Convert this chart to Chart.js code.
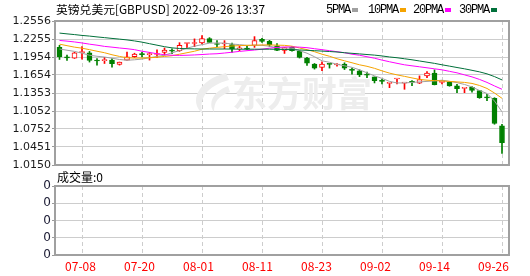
<!DOCTYPE html>
<html>
<head>
<meta charset="utf-8">
<script src="https://cdn.jsdelivr.net/npm/chart.js@4.4.1/dist/chart.umd.min.js"></script>
<style>
  body { margin: 0; background: #fff; }
  #wrap { position: relative; width: 530px; height: 276px; overflow: hidden; background: #fff; }
  .box { position: absolute; left: 0; width: 530px; }
  #priceBox { top: 0; height: 175px; }
  #volBox { top: 175px; height: 101px; }
  .lbl { position: absolute; z-index: 2; white-space: nowrap; font-size: 12px; line-height: 12px; color: #000; }
  .cn { font-family: "Noto Sans CJK SC", sans-serif; }
  .mono { font-family: "Liberation Mono", monospace; letter-spacing: -1.2px; }
  .key { position: absolute; z-index: 2; width: 6px; height: 4px; }
</style>
</head>
<body>
<div id="wrap">
  <div class="box" id="priceBox"><canvas id="priceChart"></canvas></div>
  <div class="box" id="volBox"><canvas id="volChart"></canvas></div>
  <div class="lbl cn" style="left:56px;top:3px;font-size:11.8px">英镑兑美元[GBPUSD] 2022-09-26 13:37</div>
  <div class="lbl cn" style="left:57px;top:171px">成交量:0</div>
</div>
<script>
// trading days shown (07-05 .. 09-26)
const dates = ['07-05','07-06','07-07','07-08','07-11','07-12','07-13','07-14','07-15','07-18',
  '07-19','07-20','07-21','07-22','07-25','07-26','07-27','07-28','07-29','08-01',
  '08-02','08-03','08-04','08-05','08-08','08-09','08-10','08-11','08-12','08-15',
  '08-16','08-17','08-18','08-19','08-22','08-23','08-24','08-25','08-26','08-29',
  '08-30','08-31','09-01','09-02','09-05','09-06','09-07','09-08','09-09','09-12',
  '09-13','09-14','09-15','09-16','09-19','09-20','09-21','09-22','09-23','09-26'];

const opens = [1.2115,1.1947,1.1937,1.2028,1.2026,1.1893,1.1893,1.1903,1.1829,1.1903,
  1.1959,1.2000,1.1995,1.1997,1.2031,1.2058,1.2060,1.2180,1.2180,1.2189,
  1.2262,1.2170,1.2172,1.2161,1.2090,1.2090,1.2149,1.2250,1.2216,1.2140,
  1.2065,1.2115,1.2048,1.1937,1.1836,1.1779,1.1836,1.1821,1.1836,1.1740,
  1.1723,1.1660,1.1622,1.1553,1.1514,1.1587,1.1519,1.1536,1.1516,1.1639,
  1.1684,1.1530,1.1533,1.1471,1.1430,1.1449,1.1392,1.1277,1.1264,1.0803];
const highs = [1.2149,1.1987,1.2034,1.2127,1.2048,1.1930,1.1947,1.1930,1.1870,1.2038,
  1.2018,1.2031,1.2031,1.2076,1.2105,1.2093,1.2194,1.2187,1.2257,1.2312,
  1.2278,1.2228,1.2228,1.2189,1.2139,1.2139,1.2295,1.2267,1.2233,1.2177,
  1.2115,1.2130,1.2060,1.1947,1.1846,1.1875,1.1841,1.1846,1.1858,1.1769,
  1.1740,1.1701,1.1622,1.1583,1.1521,1.1595,1.1526,1.1560,1.1639,1.1711,
  1.1740,1.1555,1.1544,1.1499,1.1437,1.1459,1.1398,1.1331,1.1274,1.0831];
const lows = [1.1913,1.1896,1.1930,1.1920,1.1870,1.1819,1.1846,1.1785,1.1819,1.1903,
  1.1947,1.1954,1.1903,1.1942,1.1987,1.2009,1.2048,1.2110,1.2127,1.2172,
  1.2199,1.2127,1.2093,1.2031,1.2060,1.2077,1.2115,1.2199,1.2132,1.2060,
  1.2014,1.2052,1.1937,1.1812,1.1752,1.1728,1.1769,1.1802,1.1745,1.1668,
  1.1627,1.1610,1.1521,1.1504,1.1442,1.1504,1.1415,1.1476,1.1510,1.1610,
  1.1488,1.1504,1.1466,1.1358,1.1358,1.1365,1.1264,1.1223,1.0831,1.0344];
const closes = [1.1954,1.1940,1.2026,1.2034,1.1896,1.1888,1.1898,1.1841,1.1870,1.1959,
  1.2004,1.1995,1.2000,1.2006,1.2071,1.2052,1.2149,1.2185,1.2187,1.2262,
  1.2199,1.2163,1.2180,1.2088,1.2095,1.2085,1.2228,1.2216,1.2161,1.2065,
  1.2110,1.2060,1.1947,1.1853,1.1769,1.1836,1.1830,1.1827,1.1769,1.1730,
  1.1656,1.1652,1.1560,1.1547,1.1519,1.1592,1.1524,1.1530,1.1577,1.1684,
  1.1493,1.1536,1.1471,1.1425,1.1435,1.1398,1.1274,1.1271,1.0843,1.0524];

const ma5 = [1.2088,1.2068,1.2048,1.2018,1.1984,1.1967,1.1954,1.1934,1.1913,1.1900,
  1.1908,1.1920,1.1942,1.1964,1.1984,1.2026,1.2060,1.2102,1.2135,1.2161,
  1.2186,1.2189,1.2186,1.2172,1.2161,1.2149,1.2149,1.2149,1.2135,1.2110,
  1.2105,1.2102,1.2060,1.2018,1.1959,1.1891,1.1866,1.1833,1.1807,1.1782,
  1.1740,1.1690,1.1639,1.1597,1.1547,1.1521,1.1521,1.1530,1.1538,1.1547,
  1.1555,1.1567,1.1547,1.1526,1.1496,1.1454,1.1395,1.1345,1.1219,1.1038];
const ma10 = [1.2169,1.2144,1.2119,1.2102,1.2077,1.2051,1.2026,1.1992,1.1964,1.1942,
  1.1937,1.1937,1.1942,1.1950,1.1964,1.1976,1.2001,1.2026,1.2051,1.2085,
  1.2102,1.2115,1.2127,1.2139,1.2144,1.2149,1.2152,1.2156,1.2156,1.2152,
  1.2149,1.2135,1.2105,1.2077,1.2043,1.2001,1.1967,1.1925,1.1891,1.1858,
  1.1824,1.1799,1.1765,1.1723,1.1685,1.1656,1.1631,1.1605,1.1580,1.1567,
  1.1560,1.1555,1.1547,1.1538,1.1530,1.1513,1.1479,1.1429,1.1353,1.1264];
const ma20 = [1.2231,1.2220,1.2206,1.2189,1.2169,1.2152,1.2132,1.2119,1.2105,1.2093,
  1.2077,1.2051,1.2031,1.2009,1.1992,1.1984,1.1981,1.1984,1.1989,1.1996,
  1.2004,1.2009,1.2021,1.2034,1.2048,1.2060,1.2071,1.2085,1.2102,1.2115,
  1.2122,1.2122,1.2119,1.2110,1.2093,1.2077,1.2060,1.2043,1.2026,1.2001,
  1.1984,1.1959,1.1934,1.1903,1.1875,1.1849,1.1824,1.1807,1.1791,1.1774,
  1.1757,1.1740,1.1715,1.1690,1.1656,1.1622,1.1580,1.1530,1.1471,1.1415];
const ma30 = [1.2354,1.2341,1.2329,1.2315,1.2304,1.2290,1.2278,1.2265,1.2253,1.2240,
  1.2223,1.2203,1.2177,1.2152,1.2127,1.2107,1.2097,1.2093,1.2090,1.2088,
  1.2088,1.2088,1.2088,1.2087,1.2085,1.2085,1.2085,1.2085,1.2085,1.2083,
  1.2080,1.2077,1.2072,1.2066,1.2060,1.2053,1.2046,1.2038,1.2026,1.2016,
  1.2006,1.1996,1.1986,1.1972,1.1955,1.1942,1.1925,1.1908,1.1888,1.1868,
  1.1848,1.1824,1.1802,1.1779,1.1757,1.1732,1.1706,1.1673,1.1627,1.1572];

const volumes = [0,0,0,0,0,0,0,0,0,0, 0,0,0,0,0,0,0,0,0,0, 0,0,0,0,0,0,0,0,0,0,
  0,0,0,0,0,0,0,0,0,0, 0,0,0,0,0,0,0,0,0,0, 0,0,0,0,0,0,0,0,0,0];

const xTickLabels = ['07-08','07-20','08-01','08-11','08-23','09-02','09-14','09-26'];
const priceTickLabels = ['1.0150','1.0451','1.0752','1.1052','1.1353','1.1654','1.1954','1.2255','1.2556'];
const volTickLabels = ['0','0','0','0','0'];
const maNames = ['5PMA','10PMA','20PMA','30PMA'];

const RED = '#ff0000';
const GREEN = '#008000';
const maColors = ['#a0a0a0', '#f5a300', '#ff00ff', '#00703a'];
const gridColor = '#cdcdcd';

// x range so that one trading day = 7.5px
const xMin = -0.6, xMax = 59.9333;
// the date labels sit a little left of their grid lines, drifting to the right end
const labelMin = -0.458, labelMax = 61.10;
const xTickValues = xTickLabels.map(l => dates.indexOf(l));

const frame = {
  id: 'frame',
  afterDraw(chart) {
    const {ctx, chartArea: a} = chart;
    ctx.save();
    ctx.strokeStyle = '#a0a0a0';
    ctx.lineWidth = 2;
    ctx.strokeRect(a.left, a.top, a.right - a.left, a.bottom - a.top);
    ctx.restore();
  }
};

const watermark = {
  id: 'watermark',
  beforeDatasetsDraw(chart) {
    const ctx = chart.ctx;
    ctx.save();
    ctx.fillStyle = '#ededed';
    ctx.beginPath();
    ctx.moveTo(226, 73);
    ctx.bezierCurveTo(198, 80, 188, 102, 203, 114);
    ctx.bezierCurveTo(198, 100, 206, 86, 229, 80);
    ctx.closePath();
    ctx.fill();
    ctx.beginPath();
    ctx.moveTo(228, 86);
    ctx.bezierCurveTo(212, 92, 208, 104, 214, 112);
    ctx.bezierCurveTo(214, 102, 218, 96, 230, 92);
    ctx.closePath();
    ctx.fill();
    ctx.font = 'bold 35px "Noto Sans CJK SC"';
    ctx.textBaseline = 'middle';
    ctx.fillText('东方财富', 232, 94);
    ctx.restore();
  }
};

const isUp = i => closes[i] >= opens[i];

const maSets = [ma5, ma10, ma20, ma30].map((arr, k) => ({
  type: 'line',
  label: maNames[k],
  data: arr.map((v, i) => ({x: i, y: v})),
  borderColor: maColors[k],
  borderWidth: 1,
  pointRadius: 0,
  tension: 0,
  order: -1 - k
}));

const gridAxis = {
  type: 'linear',
  min: xMin,
  max: xMax,
  offset: false,
  afterBuildTicks: s => { s.ticks = xTickValues.map(v => ({value: v})); },
  afterFit: s => { s.height = 0; },
  ticks: { display: false },
  grid: { offset: false, color: gridColor, lineWidth: 1, drawTicks: false, borderDash: [4, 3] },
  border: { display: false, dash: [4, 3] }
};

new Chart(document.getElementById('priceChart'), {
  type: 'bar',
  data: {
    datasets: [
      ...maSets,
      {
        label: 'body',
        data: dates.map((d, i) => ({x: i, y: [opens[i], closes[i]]})),
        backgroundColor: c => isUp(c.dataIndex) ? '#ffffff' : GREEN,
        borderColor: c => isUp(c.dataIndex) ? RED : GREEN,
        borderWidth: 1,
        borderSkipped: false,
        barThickness: 5,
        maxBarThickness: 5,
        minBarLength: 1,
        grouped: false,
        order: 0
      },
      {
        label: 'wick',
        data: dates.map((d, i) => ({x: i, y: [lows[i], highs[i]]})),
        backgroundColor: c => isUp(c.dataIndex) ? RED : GREEN,
        borderWidth: 0,
        barThickness: 1,
        maxBarThickness: 1,
        grouped: false,
        order: 1
      }
    ]
  },
  options: {
    responsive: true,
    maintainAspectRatio: false,
    devicePixelRatio: 1,
    animation: false,
    events: [],
    layout: { padding: { left: 0, right: 21, top: 21, bottom: 10 } },
    plugins: { legend: { display: false }, tooltip: { enabled: false } },
    scales: {
      x: gridAxis,
      y: {
        min: 1.0150,
        max: 1.2556,
        afterBuildTicks: s => { s.ticks = priceTickLabels.map(l => ({value: parseFloat(l)})); },
        afterFit: s => { s.width = 55; },
        ticks: {
          callback: (v, i) => priceTickLabels[i],
          autoSkip: false,
          font: { family: 'DejaVu Sans', size: 11 },
          color: '#1a1a1a',
          padding: 1
        },
        grid: { color: gridColor, lineWidth: 1, tickColor: '#999999', tickLength: 3 },
        border: { display: false }
      }
    }
  },
  plugins: [watermark, frame]
});

new Chart(document.getElementById('volChart'), {
  type: 'bar',
  data: {
    datasets: [{
      label: '成交量',
      data: dates.map((d, i) => ({x: i, y: volumes[i]})),
      backgroundColor: GREEN,
      barThickness: 5,
      maxBarThickness: 5,
      grouped: false
    }]
  },
  options: {
    responsive: true,
    maintainAspectRatio: false,
    devicePixelRatio: 1,
    animation: false,
    events: [],
    layout: { padding: { left: 0, right: 21, top: 11, bottom: 0 } },
    plugins: { legend: { display: false }, tooltip: { enabled: false } },
    scales: {
      x: gridAxis,
      xDates: {
        type: 'linear',
        position: 'bottom',
        min: labelMin,
        max: labelMax,
        offset: false,
        afterBuildTicks: s => { s.ticks = xTickValues.map(v => ({value: v})); },
        afterFit: s => { s.height = 21; },
        ticks: {
          callback: v => dates[v],
          autoSkip: false,
          maxRotation: 0,
          font: { family: 'Noto Sans CJK SC', size: 12 },
          color: RED,
          padding: 4
        },
        grid: { display: false, drawTicks: false },
        border: { display: false }
      },
      y: {
        min: 0,
        max: 4,
        afterBuildTicks: s => { s.ticks = volTickLabels.map((l, i) => ({value: i})); },
        afterFit: s => { s.width = 55; },
        ticks: {
          callback: (v, i) => volTickLabels[i],
          autoSkip: false,
          font: { family: 'DejaVu Sans', size: 12 },
          color: '#1a1a33',
          padding: 1
        },
        grid: { color: gridColor, lineWidth: 1, tickColor: '#999999', tickLength: 3 },
        border: { display: false }
      }
    }
  },
  plugins: [frame]
});

// legend: name followed by a small colour key
const wrap = document.getElementById('wrap');
const legendX = [326, 368, 413, 459];
maNames.forEach((name, k) => {
  const t = document.createElement('div');
  t.className = 'lbl mono';
  t.style.left = legendX[k] + 'px';
  t.style.top = '4px';
  t.textContent = name;
  wrap.appendChild(t);
  const key = document.createElement('div');
  key.className = 'key';
  key.style.background = maColors[k];
  key.style.left = (legendX[k] + name.length * 6 + 2) + 'px';
  key.style.top = '8px';
  wrap.appendChild(key);
});
</script>
</body>
</html>
